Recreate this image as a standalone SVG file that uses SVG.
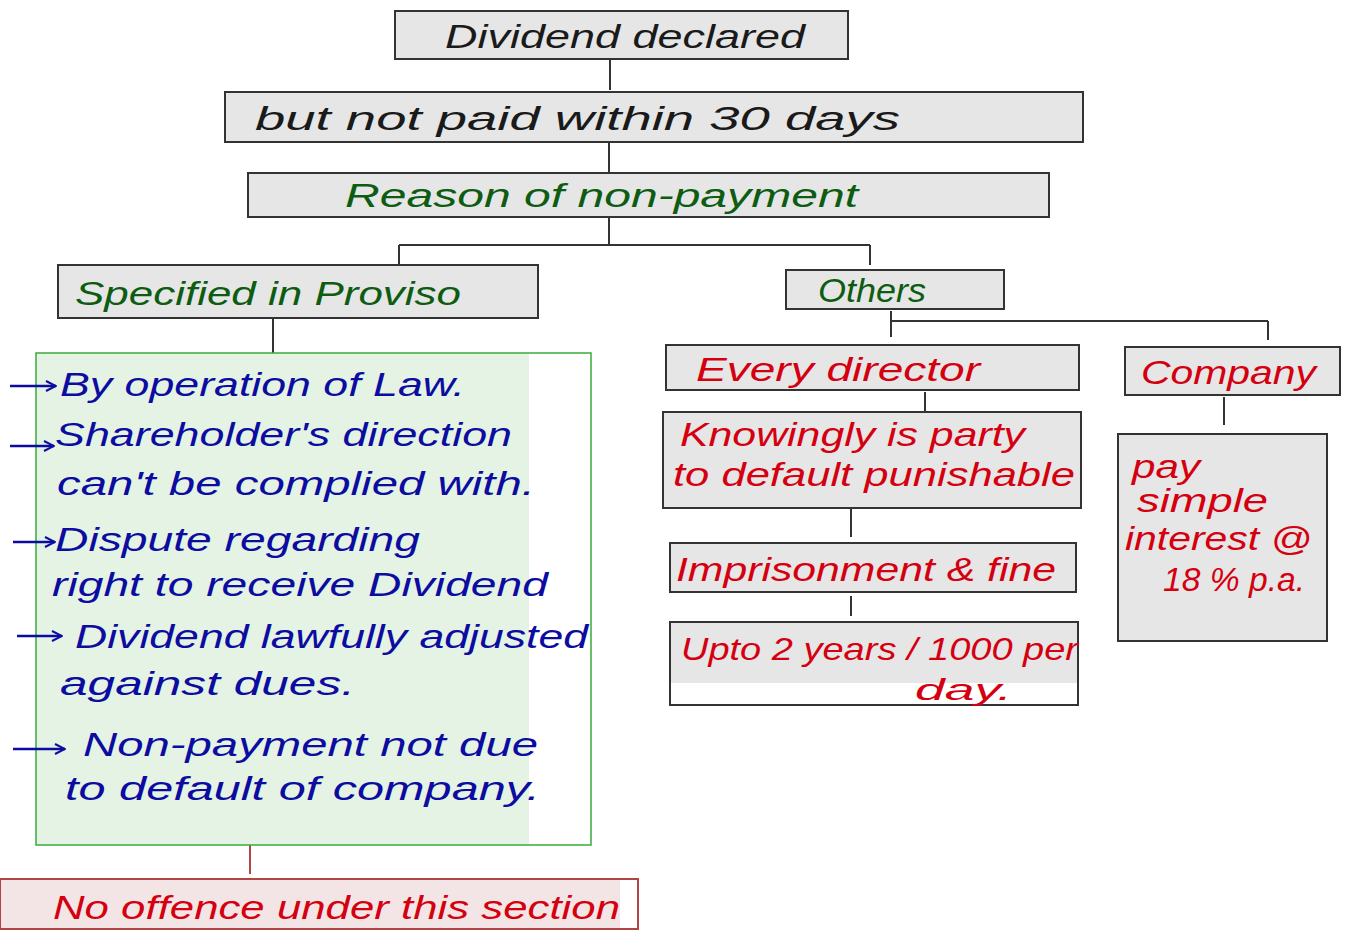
<svg xmlns="http://www.w3.org/2000/svg" width="1348" height="948" viewBox="0 0 1348 948">
<style>
.box{fill:#e6e6e6;stroke:#333;stroke-width:2}
.t{font-family:"Liberation Sans","Noto Sans",sans-serif;font-size:34px;font-style:italic}
.k{fill:#1a1a1a}
.g{fill:#0d5c12}
.b{fill:#0c0ca0}
.r{fill:#d40010}
.ln{stroke:#333;stroke-width:2;fill:none}
.arr{stroke:#0c0ca0;stroke-width:2.5;fill:none;marker-end:url(#ah)}
</style>
<defs>
<marker id="ah" viewBox="0 0 10 10" refX="9" refY="5" markerWidth="5" markerHeight="5" orient="auto" markerUnits="strokeWidth">
<path d="M1 1L9 5L1 9" fill="none" stroke="#0c0ca0" stroke-width="1.6"/>
</marker>
</defs>
<rect width="1348" height="948" fill="#fff"/>
<g id="connectors">
<path class="ln" d="M610 59V90M609 142V173M609 217V245M399 245H870M399 245V265M870 245V265M273 318V353M891 311V337M891 321H1268M1268 321V340M925 392V412M1224 397V425M851 508V537M851 596V616"/>
<path d="M250 845V874" stroke="#b04545" stroke-width="2"/>
</g>
<g id="n1"><rect class="box" x="395" y="11" width="453" height="48"/>
<text class="t k" x="445" y="48" textLength="360" lengthAdjust="spacingAndGlyphs">Dividend declared</text></g>
<g id="n2"><rect class="box" x="225" y="92" width="858" height="50"/>
<text class="t k" x="255" y="130" textLength="645" lengthAdjust="spacingAndGlyphs">but not paid within 30 days</text></g>
<g id="n3"><rect class="box" x="248" y="173" width="801" height="44"/>
<text class="t g" x="345" y="207" textLength="513" lengthAdjust="spacingAndGlyphs">Reason of non-payment</text></g>
<g id="n4"><rect class="box" x="58" y="265" width="480" height="53"/>
<text class="t g" x="75" y="305" textLength="386" lengthAdjust="spacingAndGlyphs">Specified in Proviso</text></g>
<g id="n5"><rect x="36" y="353" width="493" height="492" fill="#e4f3e4"/>
<rect x="36" y="353" width="555" height="492" fill="none" stroke="#3aaa3a" stroke-width="1.5"/>
<path class="arr" d="M10 386H56"/>
<path class="arr" d="M10 446H54"/>
<path class="arr" d="M13 542H55"/>
<path class="arr" d="M17 636H62"/>
<path class="arr" d="M13 749H65"/>
<g class="t b">
<text x="60" y="396" textLength="405" lengthAdjust="spacingAndGlyphs">By operation of Law.</text>
<text x="55" y="446" textLength="457" lengthAdjust="spacingAndGlyphs">Shareholder's direction</text>
<text x="57" y="495" textLength="478" lengthAdjust="spacingAndGlyphs">can't be complied with.</text>
<text x="55" y="551" textLength="365" lengthAdjust="spacingAndGlyphs">Dispute regarding</text>
<text x="52" y="596" textLength="496" lengthAdjust="spacingAndGlyphs">right to receive Dividend</text>
<text x="75" y="648" textLength="513" lengthAdjust="spacingAndGlyphs">Dividend lawfully adjusted</text>
<text x="60" y="695" textLength="295" lengthAdjust="spacingAndGlyphs">against dues.</text>
<text x="83" y="756" textLength="455" lengthAdjust="spacingAndGlyphs">Non-payment not due</text>
<text x="65" y="800" textLength="475" lengthAdjust="spacingAndGlyphs">to default of company.</text>
</g></g>
<g id="n6"><rect x="0" y="879" width="620" height="50" fill="#f3e5e5"/>
<rect x="0" y="879" width="638" height="50" fill="none" stroke="#b04545" stroke-width="2"/>
<text class="t r" x="53" y="919" textLength="567" lengthAdjust="spacingAndGlyphs">No offence under this section</text></g>
<g id="n7"><rect class="box" x="786" y="270" width="218" height="39"/>
<text class="t g" x="818" y="302" textLength="108" lengthAdjust="spacingAndGlyphs">Others</text></g>
<g id="n8"><rect class="box" x="666" y="345" width="413" height="45"/>
<text class="t r" x="696" y="381" textLength="284" lengthAdjust="spacingAndGlyphs">Every director</text></g>
<g id="n9"><rect class="box" x="1125" y="347" width="215" height="48"/>
<text class="t r" x="1141" y="384" textLength="175" lengthAdjust="spacingAndGlyphs">Company</text></g>
<g id="n10"><rect class="box" x="663" y="412" width="418" height="96"/>
<text class="t r" x="680" y="446" textLength="345" lengthAdjust="spacingAndGlyphs">Knowingly is party</text>
<text class="t r" x="673" y="486" textLength="402" lengthAdjust="spacingAndGlyphs">to default punishable</text></g>
<g id="n11"><rect class="box" x="1118" y="434" width="209" height="207"/>
<text class="t r" x="1132" y="478" textLength="68" lengthAdjust="spacingAndGlyphs">pay</text>
<text class="t r" x="1137" y="512" textLength="131" lengthAdjust="spacingAndGlyphs">simple</text>
<text class="t r" x="1125" y="550" textLength="187" lengthAdjust="spacingAndGlyphs">interest @</text>
<text class="t r" x="1163" y="591" textLength="142" lengthAdjust="spacingAndGlyphs">18 % p.a.</text></g>
<g id="n12"><rect class="box" x="670" y="543" width="406" height="49"/>
<text class="t r" x="676" y="581" textLength="380" lengthAdjust="spacingAndGlyphs">Imprisonment &amp; fine</text></g>
<g id="n13"><rect x="670" y="622" width="408" height="61" fill="#e6e6e6"/>
<rect x="670" y="622" width="408" height="83" fill="none" stroke="#333" stroke-width="2"/>
<text class="t r" x="681" y="660" style="font-size:32px" textLength="397" lengthAdjust="spacingAndGlyphs">Upto 2 years / 1000 per</text>
<text class="t r" x="915" y="700" style="font-size:30px" textLength="97" lengthAdjust="spacingAndGlyphs">day.</text></g>
</svg>
